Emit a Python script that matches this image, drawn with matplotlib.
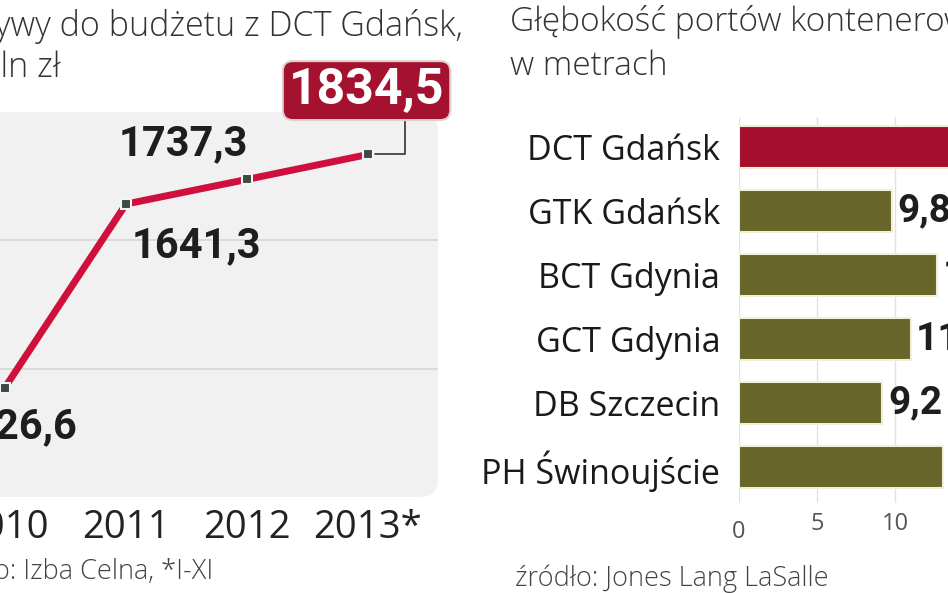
import matplotlib
matplotlib.use('Agg')
import matplotlib.pyplot as plt
from matplotlib.patches import FancyBboxPatch
import matplotlib.transforms as mtransforms

# wplywy do budzetu z DCT Gdansk, mln zl
years = ['2010', '2011', '2012', '2013*']
wplywy = [926.6, 1641.3, 1737.3, 1834.5]

# glebokosc portow kontenerowych, m
porty = ['DCT Gdańsk', 'GTK Gdańsk', 'BCT Gdynia', 'GCT Gdynia', 'DB Szczecin', 'PH Świnoujście']
glebokosc = [16.5, 9.8, 12.7, 11.0, 9.2, 13.1]

W, H = 948, 593
fig = plt.figure(figsize=(W / 100, H / 100), dpi=100)
fig.patch.set_facecolor('white')

TXT = ['Open Sans', 'DejaVu Sans']
NUM = ['Roboto', 'DejaVu Sans']


def px_box(l, t, r, b):
    return [l / W, 1 - b / H, (r - l) / W, (b - t) / H]


def fmt(v):
    return f'{v:.1f}'.replace('.', ',')


# ---------- left: line chart ----------
ax1 = fig.add_axes(px_box(-30, 112, 438, 497))
xs = list(range(len(years)))
ax1.set_facecolor('none')
bg = FancyBboxPatch((0, 0), 1, 1, boxstyle='round,pad=0,rounding_size=0.04',
                    mutation_aspect=468 / 385, transform=ax1.transAxes,
                    fc='#f1f1f1', ec='none', zorder=0, clip_on=False)
ax1.add_patch(bg)
ax1.set_yticks([1000, 1500])
ax1.yaxis.grid(True, color='#d6d6d6', lw=1.2)
ax1.tick_params(axis='y', left=False, labelleft=False)
ax1.set_xticks(xs)
ax1.set_xticklabels(years, fontsize=27.5, color='#222222', family=TXT)
ax1.tick_params(axis='x', bottom=False, pad=5)
ax1.set_xlim(-0.289, 3.579)
ax1.set_ylim(500, 2000)
for s in ax1.spines.values():
    s.set_visible(False)

ax1.plot(xs, wplywy, color='#cf103d', lw=5, marker='s', ms=7,
         mfc='#3d4a44', mec='#f4f4f4', mew=1.5, zorder=3)

# value labels
ax1.annotate(fmt(wplywy[0]), xy=(xs[0], wplywy[0]), xytext=(52, -28),
             textcoords='offset points', ha='right', va='center',
             fontsize=30, fontweight='bold', family=NUM, color='#1e1e1e')
ax1.annotate(fmt(wplywy[1]), xy=(xs[1], wplywy[1]), xytext=(51, -30),
             textcoords='offset points', ha='center', va='center',
             fontsize=30, fontweight='bold', family=NUM, color='#1e1e1e')
ax1.annotate(fmt(wplywy[2]), xy=(xs[2], wplywy[2]), xytext=(-46, 26),
             textcoords='offset points', ha='center', va='center',
             fontsize=30, fontweight='bold', family=NUM, color='#1e1e1e')
ax1.annotate(fmt(wplywy[3]), xy=(xs[3], wplywy[3]), xytext=(-1, 46),
             textcoords='offset points', ha='center', va='center',
             fontsize=36, fontweight='bold', family=NUM, color='white',
             bbox=dict(boxstyle='round,pad=0.12,rounding_size=0.2',
                       fc='#a5122f', ec='#ddd2d2', lw=1.5),
             arrowprops=dict(arrowstyle='-', color='#333333', lw=1.2,
                             connectionstyle='angle,angleA=90,angleB=0,rad=0',
                             relpos=(0.75, 0), shrinkA=0, shrinkB=5),
             zorder=5)

fig.text(463 / W, 1 - 36 / H, 'Wpływy do budżetu z DCT Gdańsk,', ha='right',
         va='baseline', fontsize=24.5, fontweight=300, family=TXT, color='#333333')
fig.text(60 / W, 1 - 77 / H, 'w mln zł', ha='right', va='baseline',
         fontsize=24.5, fontweight=300, family=TXT, color='#333333')
fig.text(213 / W, 1 - 579 / H, 'źródło: Izba Celna, *I-XI', ha='right',
         va='baseline', fontsize=19.5, fontweight=300, family=TXT, color='#444444')

# ---------- right: bar chart ----------
ax2 = fig.add_axes(px_box(739, 117, 948, 503))
ypos = list(range(len(porty)))
colors = ['#a50e2d'] + ['#67652a'] * (len(porty) - 1)
bars = ax2.barh(ypos, glebokosc, height=0.66, color=colors,
                edgecolor='#f3efd6', lw=1.5, zorder=3)
for b in bars:
    b.set_joinstyle('round')
ax2.set_yticks(ypos)
ax2.set_yticklabels(porty, fontsize=24.5, color='#1a1a1a', family=TXT)
ax2.tick_params(axis='y', left=False, pad=10)
ax2.set_xticks([0, 5, 10])
ax2.set_xticklabels(['0', '5', '10'], fontsize=17, color='#555555', family=TXT)
ax2.tick_params(axis='x', bottom=False, pad=3)
lab0 = ax2.get_xticklabels()[0]
lab0.set_transform(lab0.get_transform() +
                   mtransforms.ScaledTranslation(0, -8 / 100, fig.dpi_scale_trans))
ax2.set_xlim(0, 13.4)
ax2.set_ylim(5.56, -0.47)
ax2.xaxis.grid(True, color='#e2e2e2', lw=1)
ax2.set_axisbelow(True)
for s in ax2.spines.values():
    s.set_visible(False)

for i, v in enumerate(glebokosc):
    ax2.text(v + 0.35, i, fmt(v), ha='left', va='center', fontsize=28,
             fontweight='bold', family=NUM, color='#1e1e1e', clip_on=False)

fig.text(510 / W, 1 - 31 / H, 'Głębokość portów kontenerowych', ha='left',
         va='baseline', fontsize=24, fontweight=300, family=TXT, color='#333333')
fig.text(510 / W, 1 - 75 / H, 'w metrach', ha='left', va='baseline',
         fontsize=24, fontweight=300, family=TXT, color='#333333')
fig.text(515 / W, 1 - 586 / H, 'źródło: Jones Lang LaSalle', ha='left',
         va='baseline', fontsize=19.5, fontweight=300, family=TXT, color='#444444')

fig.savefig('out.png', dpi=100)
